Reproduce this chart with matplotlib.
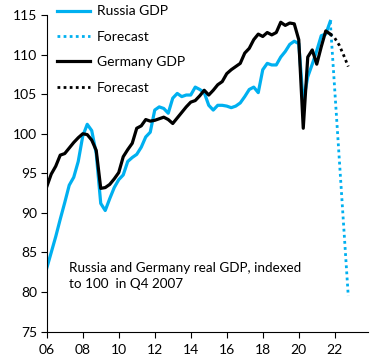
import numpy as np
import matplotlib
matplotlib.use("Agg")
import matplotlib.pyplot as plt

plt.rcParams['font.family'] = ['Lato', 'DejaVu Sans']

# quarterly index (Q4 2007 = 100), first point sits on the "06" tick
russia = [83.0, 85.0, 87.0, 89.2, 91.3, 93.5, 94.5, 96.5, 99.7, 101.2,
          100.4, 97.5, 91.2, 90.3, 91.8, 93.2, 94.2, 94.8, 96.5, 97.0,
          97.4, 98.3, 99.6, 100.2, 103.0, 103.4, 103.2, 102.6, 104.5, 105.1,
          104.7, 104.9, 104.9, 105.9, 105.6, 105.2, 103.6, 103.0, 103.6, 103.6,
          103.5, 103.3, 103.5, 103.9, 104.7, 105.6, 105.9, 105.2, 108.1, 108.9,
          108.7, 108.7, 109.7, 110.4, 111.3, 111.7, 111.4, 104.0, 107.2, 108.8,
          110.5, 112.4, 112.6, 114.2]
germany = [93.3, 94.9, 95.9, 97.3, 97.5, 98.2, 98.9, 99.5, 100.0, 99.9,
           99.2, 97.9, 93.1, 93.2, 93.6, 94.3, 95.1, 97.1, 98.0, 98.8,
           100.7, 101.0, 101.8, 101.6, 101.7, 101.9, 102.1, 101.8, 101.3, 102.0,
           102.7, 103.4, 104.0, 104.2, 104.8, 105.5, 104.9, 105.5, 106.2, 106.6,
           107.6, 108.1, 108.5, 108.9, 110.2, 110.8, 111.9, 112.6, 112.3, 112.8,
           112.5, 112.8, 114.1, 113.7, 114.0, 113.9, 111.9, 100.7, 109.7, 110.6,
           108.8, 111.0, 113.0, 112.6]
# forecasts: last actual quarter, then 2022 quarters
russia_fc_q = [63, 67]
russia_fc = [114.2, 79.5]
germany_fc_q = [63, 64, 65, 66, 67]
germany_fc = [112.6, 112.1, 111.2, 109.9, 108.5]

xticks = [2006, 2008, 2010, 2012, 2014, 2016, 2018, 2020, 2022]
xticklabels = ['06', '08', '10', '12', '14', '16', '18', '20', '22']
yticks = [75, 80, 85, 90, 95, 100, 105, 110, 115]

def qpos(q):
    return 2006 + np.asarray(q) / 4.0

blue = '#00B0F0'

fig = plt.figure(figsize=(3.83, 3.6), dpi=100)
ax = fig.add_axes([0.122, 0.079, 0.839, 0.879])

ax.plot(qpos(np.arange(len(russia))), russia, color=blue, lw=2.3,
        label='Russia GDP', solid_joinstyle='round')
ax.plot(qpos(russia_fc_q), russia_fc, color=blue, lw=2.0,
        ls=(0, (1, 1.2)), label='Forecast')
ax.plot(qpos(np.arange(len(germany))), germany, color='black', lw=2.3,
        label='Germany GDP', solid_joinstyle='round')
ax.plot(qpos(germany_fc_q), germany_fc, color='black', lw=2.0,
        ls=(0, (1, 1.2)), label='Forecast')

ax.set_xlim(2006, 2023.85)
ax.set_ylim(75, 115)
ax.set_xticks(xticks)
ax.set_xticklabels(xticklabels)
ax.set_yticks(yticks)
ax.tick_params(labelsize=10, length=4, width=0.8, direction='out', pad=3)
ax.tick_params(axis='x', pad=5)
for s in ['top', 'right']:
    ax.spines[s].set_visible(False)
for s in ['left', 'bottom']:
    ax.spines[s].set_linewidth(0.8)

ax.text(0.07, 0.175, 'Russia and Germany real GDP, indexed\nto 100  in Q4 2007',
        transform=ax.transAxes, fontsize=9.7, va='center', ha='left',
        linespacing=1.45)

ax.legend(loc='upper left', bbox_to_anchor=(0.149, 0.985),
          bbox_transform=fig.transFigure, frameon=False, fontsize=10,
          borderpad=0, borderaxespad=0, handlelength=2.4,
          handletextpad=0.45, labelspacing=0.97)

fig.savefig('out.png', dpi=100)
